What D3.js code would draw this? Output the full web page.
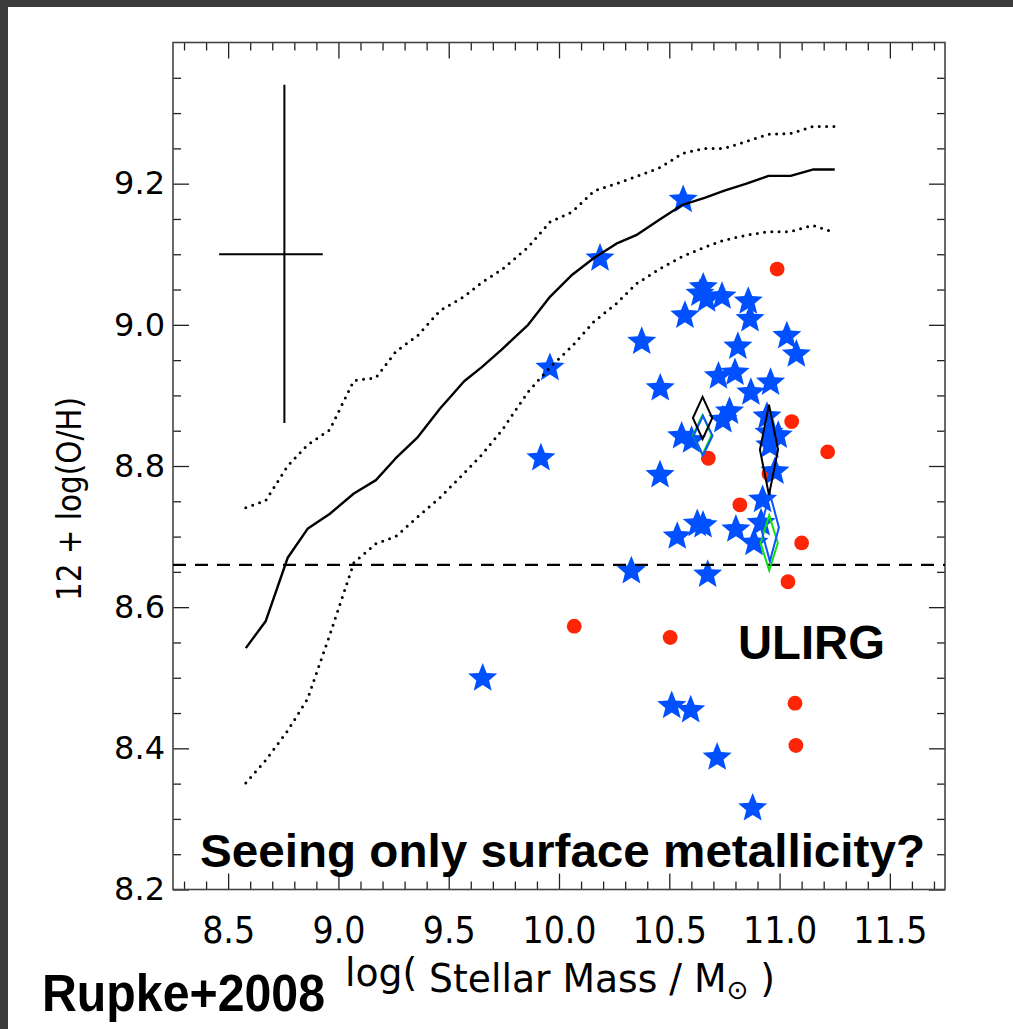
<!DOCTYPE html>
<html>
<head>
<meta charset="utf-8">
<script src="https://cdn.jsdelivr.net/npm/d3@7"></script>
<style>
  html, body { margin: 0; padding: 0; background: #3b3b3b; }
  svg { display: block; }
</style>
</head>
<body>
<script>
// ---------------- DATA ----------------
const xTickValues = [8.5, 9.0, 9.5, 10.0, 10.5, 11.0, 11.5];
const xTickLabels = ["8.5", "9.0", "9.5", "10.0", "10.5", "11.0", "11.5"];
const yTickValues = [8.2, 8.4, 8.6, 8.8, 9.0, 9.2];
const yTickLabels = ["8.2", "8.4", "8.6", "8.8", "9.0", "9.2"];

// SDSS mass-metallicity relation (median and contours)
const modelMass = [8.58, 8.67, 8.77, 8.86, 8.96, 9.07, 9.17, 9.26, 9.36, 9.46, 9.57, 9.65, 9.74, 9.86,
                   9.96, 10.06, 10.16, 10.26, 10.35, 10.46, 10.56, 10.66, 10.75, 10.85, 10.95, 11.05, 11.15, 11.25];
const medianOH  = [8.542, 8.580, 8.670, 8.711, 8.732, 8.761, 8.780, 8.811, 8.841, 8.881, 8.920, 8.940, 8.965, 9.000,
                   9.040, 9.071, 9.095, 9.115, 9.127, 9.150, 9.170, 9.180, 9.190, 9.200, 9.211, 9.211, 9.220, 9.220];
const upperOH   = [8.741, 8.751, 8.800, 8.830, 8.851, 8.921, 8.925, 8.962, 8.985, 9.020, 9.040, 9.060, 9.078, 9.110,
                   9.146, 9.160, 9.190, 9.200, 9.210, 9.223, 9.243, 9.250, 9.250, 9.260, 9.270, 9.271, 9.281, 9.281];
const lowerOH   = [8.351, 8.383, 8.425, 8.470, 8.560, 8.663, 8.690, 8.700, 8.728, 8.755, 8.790, 8.816, 8.850, 8.905,
                   8.940, 8.970, 9.005, 9.030, 9.058, 9.080, 9.097, 9.110, 9.120, 9.127, 9.132, 9.132, 9.141, 9.131];

// Blue stars
const starMass = [10.563, 10.186, 10.654, 10.639, 10.669, 10.739, 10.858, 10.571, 10.866, 10.375, 11.033, 11.076,
                  10.811, 9.959, 10.723, 10.798, 10.459, 10.959, 10.870, 10.773, 10.743, 10.943, 10.556, 10.601,
                  10.952, 10.994, 10.956, 9.918, 10.458, 10.979, 10.923, 10.627, 10.653, 10.536, 10.802, 10.916,
                  10.884, 10.328, 10.674, 9.654, 10.511, 10.597, 10.717, 10.878];
const starOH   = [9.179, 9.096, 9.055, 9.046, 9.038, 9.042, 9.035, 9.015, 9.010, 8.978, 8.986, 8.960,
                  8.971, 8.941, 8.929, 8.934, 8.912, 8.920, 8.906, 8.879, 8.867, 8.872, 8.844, 8.838,
                  8.849, 8.845, 8.831, 8.813, 8.789, 8.794, 8.754, 8.720, 8.718, 8.702, 8.712, 8.721,
                  8.693, 8.653, 8.648, 8.501, 8.462, 8.456, 8.389, 8.317];

// Red dots
const dotMass = [10.989, 11.055, 11.218, 10.677, 10.952, 10.820, 11.100, 11.038, 10.069, 10.504, 11.070, 11.074];
const dotOH   = [9.079, 8.863, 8.820, 8.811, 8.789, 8.745, 8.691, 8.636, 8.573, 8.557, 8.464, 8.404];

// Diamonds (centre and half-extent)
const diamondGroup   = ["green", "blue", "black", "green", "blue", "black"];
const diamondMass    = [10.650, 10.653, 10.651, 10.953, 10.956, 10.952];
const diamondOH      = [8.844, 8.843, 8.868, 8.691, 8.713, 8.823];
const diamondHalfM   = [0.042, 0.043, 0.044, 0.039, 0.041, 0.041];
const diamondHalfOH  = [0.028, 0.028, 0.030, 0.039, 0.048, 0.064];

// Typical error bar
const errMass = 8.755, errOH = 9.10;
const errMassRange = [8.459, 8.929];
const errOHRange = [8.861, 9.340];

// Solar metallicity reference
const solarOH = 8.66;

// ---------------- LAYOUT ----------------
const W = 1013, H = 1029;
const plot = { left: 173, right: 945, top: 42.5, bottom: 889.5 };
const colors = { star: "#0050ff", dot: "#fc2505", black: "#000", blue: "#0a55ff", green: "#10e010" };

const svg = d3.select("body").append("svg").attr("width", W).attr("height", H);

svg.append("rect").attr("x", 0).attr("y", 0).attr("width", W).attr("height", H).attr("fill", "#3b3b3b");
svg.append("rect").attr("x", 8).attr("y", 7).attr("width", W - 8).attr("height", H - 7).attr("fill", "#fff");

const x = d3.scaleLinear().domain([8.25, 11.75]).range([plot.left, plot.right]);
const y = d3.scaleLinear().domain([8.2, 9.4]).range([plot.bottom, plot.top]);

const xMinor = d3.range(83, 118).map(v => v / 10).filter(v => xTickValues.indexOf(v) < 0);
const yMinor = d3.range(164, 189).map(v => v / 20).filter(v => yTickValues.indexOf(+v.toFixed(2)) < 0 && v > 8.2 && v < 9.4);
const axisColor = "#222";

function styleAxis(g) {
  g.select(".domain").remove();
  g.selectAll(".tick line").attr("stroke", axisColor).attr("stroke-width", 1.3);
}
const condFont = "'DejaVu Sans Condensed', 'DejaVu Sans', sans-serif";

// bottom
svg.append("g").attr("transform", `translate(0,${plot.bottom})`)
  .call(d3.axisBottom(x).tickValues(xMinor).tickSize(-8).tickFormat(""))
  .call(styleAxis);
svg.append("g").attr("transform", `translate(0,${plot.bottom})`)
  .call(d3.axisBottom(x).tickValues(xTickValues).tickSize(-16).tickPadding(27)
        .tickFormat((d, i) => xTickLabels[i]))
  .call(styleAxis)
  .call(g => g.selectAll("text").attr("fill", "#000")
      .style("font-family", condFont).style("font-stretch", "condensed")
      .style("font-size", "37px").style("font-weight", "normal"));
// top
svg.append("g").attr("transform", `translate(0,${plot.top})`)
  .call(d3.axisTop(x).tickValues(xMinor).tickSize(-8).tickFormat("")).call(styleAxis);
svg.append("g").attr("transform", `translate(0,${plot.top})`)
  .call(d3.axisTop(x).tickValues(xTickValues).tickSize(-16).tickFormat("")).call(styleAxis);
// left
svg.append("g").attr("transform", `translate(${plot.left},0)`)
  .call(d3.axisLeft(y).tickValues(yMinor).tickSize(-8).tickFormat("")).call(styleAxis);
svg.append("g").attr("transform", `translate(${plot.left},0)`)
  .call(d3.axisLeft(y).tickValues(yTickValues).tickSize(-16).tickPadding(8)
        .tickFormat((d, i) => yTickLabels[i]))
  .call(styleAxis)
  .call(g => g.selectAll("text").attr("fill", "#000")
      .style("font-family", "'DejaVu Sans', sans-serif").style("font-size", "32px").style("font-weight", "normal"));
// right
svg.append("g").attr("transform", `translate(${plot.right},0)`)
  .call(d3.axisRight(y).tickValues(yMinor).tickSize(-8).tickFormat("")).call(styleAxis);
svg.append("g").attr("transform", `translate(${plot.right},0)`)
  .call(d3.axisRight(y).tickValues(yTickValues).tickSize(-16).tickFormat("")).call(styleAxis);

// frame
svg.append("rect").attr("x", plot.left).attr("y", plot.top)
  .attr("width", plot.right - plot.left).attr("height", plot.bottom - plot.top)
  .attr("fill", "none").attr("stroke", "#444").attr("stroke-width", 1.6);

// ---------------- MARKS ----------------
svg.append("g").selectAll("circle").data(dotMass).join("circle")
  .attr("cx", d => x(d)).attr("cy", (d, i) => y(dotOH[i])).attr("r", 7.4)
  .attr("fill", colors.dot);

// five-pointed star with a slightly fat body
const fatStar = {
  draw(ctx, size) {
    const R = Math.sqrt(size), r = R * 0.44;
    for (let k = 0; k < 10; k++) {
      const rad = k % 2 ? r : R;
      const a = -Math.PI / 2 + k * Math.PI / 5;
      const px = rad * Math.cos(a), py = rad * Math.sin(a);
      if (k === 0) ctx.moveTo(px, py); else ctx.lineTo(px, py);
    }
    ctx.closePath();
  }
};
const starPath = d3.symbol().type(fatStar).size(15.3 * 15.3)();
svg.append("g").selectAll("path").data(starMass).join("path")
  .attr("d", starPath)
  .attr("transform", (d, i) => `translate(${x(d)},${y(starOH[i]) + 1.3})`)
  .attr("fill", colors.star);

// model curves
const lineGen = d3.line().x(d => x(d[0])).y(d => y(d[1]));
svg.append("path").datum(modelMass.map((m, i) => [m, medianOH[i]]))
  .attr("d", lineGen).attr("fill", "none").attr("stroke", "#000").attr("stroke-width", 2.4)
  .attr("stroke-linejoin", "round");
[upperOH, lowerOH].forEach(arr => {
  svg.append("path").datum(modelMass.map((m, i) => [m, arr[i]]))
    .attr("d", lineGen).attr("fill", "none").attr("stroke", "#000").attr("stroke-width", 3)
    .attr("stroke-dasharray", "0,7.3").attr("stroke-linecap", "round");
});

// solar dashed line
svg.append("line").attr("x1", plot.left).attr("x2", plot.right)
  .attr("y1", y(solarOH)).attr("y2", y(solarOH))
  .attr("stroke", "#000").attr("stroke-width", 2.2).attr("stroke-dasharray", "13,9");

// error cross
svg.append("line").attr("x1", x(errMass)).attr("x2", x(errMass))
  .attr("y1", y(errOHRange[0])).attr("y2", y(errOHRange[1]))
  .attr("stroke", "#000").attr("stroke-width", 2);
svg.append("line").attr("x1", x(errMassRange[0])).attr("x2", x(errMassRange[1]))
  .attr("y1", y(errOH)).attr("y2", y(errOH))
  .attr("stroke", "#000").attr("stroke-width", 2);

// diamonds
svg.append("g").selectAll("path").data(diamondMass).join("path")
  .attr("d", (d, i) => {
    const cx = x(d), cy = y(diamondOH[i]);
    const hw = x(d + diamondHalfM[i]) - cx, hh = cy - y(diamondOH[i] + diamondHalfOH[i]);
    return `M${cx},${cy - hh}L${cx + hw},${cy}L${cx},${cy + hh}L${cx - hw},${cy}Z`;
  })
  .attr("fill", "none").attr("stroke", (d, i) => colors[diamondGroup[i]]).attr("stroke-width", 2);

// ---------------- TEXT ----------------
svg.append("text").attr("transform", `translate(81,499) rotate(-90)`)
  .attr("text-anchor", "middle").attr("fill", "#000")
  .attr("textLength", 204).attr("lengthAdjust", "spacingAndGlyphs")
  .style("font-family", "'DejaVu Sans', sans-serif").style("font-size", "34px").style("font-weight", "normal")
  .text("12 + log(O/H)");

const xt = svg.append("text").attr("x", 345).attr("y", 992).attr("fill", "#000")
  .attr("textLength", 430).attr("lengthAdjust", "spacingAndGlyphs")
  .style("font-family", condFont)
  .style("font-stretch", "condensed").style("font-size", "39px").style("font-weight", "normal");
xt.append("tspan").attr("dy", -6).text("log(");
xt.append("tspan").attr("dy", 6).text(" Stellar Mass / M");
xt.append("tspan").attr("dy", 7).style("font-size", "27px").text("⊙");
xt.append("tspan").attr("dy", -7).text(" )");

const boldFont = "'Liberation Sans', Arial, Helvetica, sans-serif";
svg.append("text").attr("x", 738).attr("y", 659)
  .attr("textLength", 147).attr("lengthAdjust", "spacingAndGlyphs")
  .style("font-family", boldFont).style("font-weight", "bold").style("font-size", "48px")
  .text("ULIRG");
svg.append("text").attr("x", 200).attr("y", 867)
  .attr("textLength", 725).attr("lengthAdjust", "spacingAndGlyphs")
  .style("font-family", boldFont).style("font-weight", "bold").style("font-size", "46px")
  .text("Seeing only surface metallicity?");
svg.append("text").attr("x", 42).attr("y", 1011)
  .attr("textLength", 283).attr("lengthAdjust", "spacingAndGlyphs")
  .style("font-family", boldFont).style("font-weight", "bold").style("font-size", "51px")
  .text("Rupke+2008");
</script>
</body>
</html>
